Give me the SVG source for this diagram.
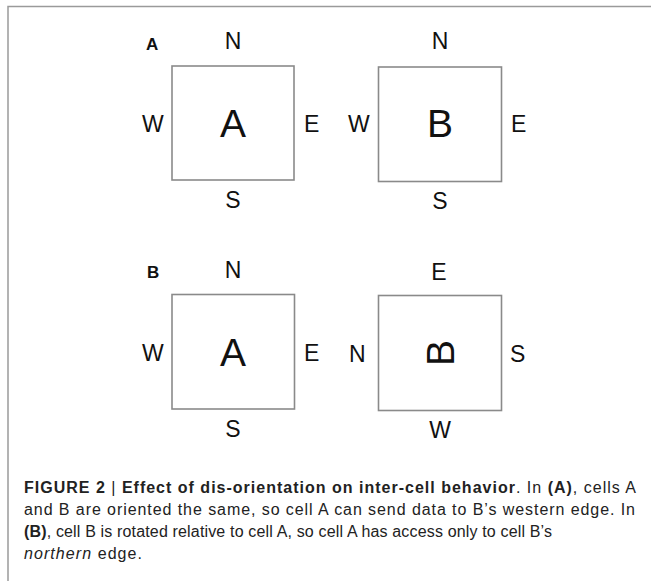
<svg xmlns="http://www.w3.org/2000/svg" width="651" height="581" viewBox="0 0 651 581">
<style>
.frame{fill:none;stroke:#9a9a9a;stroke-width:1.5}
.cell{fill:#fff;stroke:#8a8a8a;stroke-width:1.6}
.dir{font-family:"Liberation Sans",Arial,sans-serif;font-size:23px;fill:#111}
.big{font-family:"Liberation Sans",Arial,sans-serif;font-size:39px;fill:#111;text-anchor:middle}
.panel{font-family:"Liberation Sans",Arial,sans-serif;font-size:17px;font-weight:bold;fill:#111}
.cap{font-family:"Liberation Sans",Arial,sans-serif;font-size:16px;fill:#222}
.m{text-anchor:middle}
</style>
<rect width="651" height="581" fill="#fff"/>
<path class="frame" d="M8,581 V6.5 H651"/>
<g id="panelA">
<text class="panel" x="146" y="50">A</text>
<g id="cellA1">
<rect class="cell" x="172" y="66" width="122" height="114"/>
<text class="big" x="233" y="137">A</text>
<text class="dir m" x="233" y="49">N</text>
<text class="dir m" x="233" y="208">S</text>
<text class="dir" x="142" y="132">W</text>
<text class="dir" x="304" y="132">E</text>
</g>
<g id="cellB1">
<rect class="cell" x="378.5" y="67" width="123" height="114.5"/>
<text class="big" x="440" y="137">B</text>
<text class="dir m" x="440" y="49">N</text>
<text class="dir m" x="440" y="209">S</text>
<text class="dir" x="348" y="132">W</text>
<text class="dir" x="511" y="132">E</text>
</g>
</g>
<g id="panelB">
<text class="panel" x="147" y="278">B</text>
<g id="cellA2">
<rect class="cell" x="172" y="294.5" width="122.5" height="114.5"/>
<text class="big" x="233" y="366">A</text>
<text class="dir m" x="233" y="278">N</text>
<text class="dir m" x="233" y="437">S</text>
<text class="dir" x="142" y="361">W</text>
<text class="dir" x="304" y="361">E</text>
</g>
<g id="cellB2">
<rect class="cell" x="378.5" y="295.5" width="123" height="115"/>
<text class="big" transform="translate(454,353) rotate(-90)" x="0" y="0">B</text>
<text class="dir m" x="439" y="280">E</text>
<text class="dir m" x="440" y="438">W</text>
<text class="dir" x="349" y="362">N</text>
<text class="dir" x="510" y="362">S</text>
</g>
</g>
<g id="connectors"></g>
<g id="caption">
<text class="cap" x="24" y="493" textLength="612"><tspan font-weight="bold">FIGURE 2</tspan> | <tspan font-weight="bold">Effect of dis-orientation on inter-cell behavior</tspan>. In <tspan font-weight="bold">(A)</tspan>, cells A</text>
<text class="cap" x="24" y="515" textLength="611">and B are oriented the same, so cell A can send data to B’s western edge. In</text>
<text class="cap" x="24" y="537" textLength="528"><tspan font-weight="bold">(B)</tspan>, cell B is rotated relative to cell A, so cell A has access only to cell B’s</text>
<text class="cap" x="24" y="559" textLength="118"><tspan font-style="italic">northern</tspan> edge.</text>
</g>
</svg>
